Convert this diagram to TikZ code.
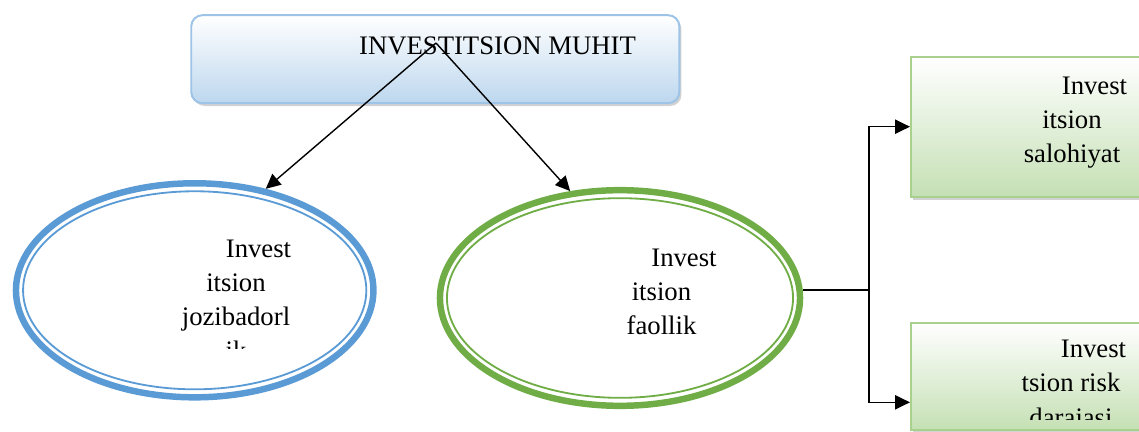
\documentclass[tikz,border=0pt]{standalone}
\usepackage{fontspec}
\setmainfont{Liberation Serif}
\usetikzlibrary{shapes}
\usetikzlibrary{shadows}
\usetikzlibrary{arrows.meta}
\definecolor{ovblue}{HTML}{5B9BD5}
\definecolor{ovgreen}{HTML}{70AD47}
\definecolor{bxblue}{HTML}{9DC3E6}
\definecolor{bxbluef}{HTML}{BDD7EE}
\definecolor{bxgreen}{HTML}{A9D18E}
\definecolor{bxgreenf}{HTML}{C5E0B4}
\tikzset{
    mynodeb/.style = {rectangle, rounded corners=8pt, draw=bxblue, line width=1.4pt, top color=white, bottom color=bxbluef, drop shadow={shadow xshift=1.5pt, shadow yshift=-2pt, fill=gray!70}},
    mynodeg/.style = {rectangle, draw=bxgreen, line width=1.4pt, top color=white, bottom color=bxgreenf, drop shadow={shadow xshift=1.5pt, shadow yshift=-2pt, fill=gray!70}},
    myovalb/.style = {ellipse, draw=ovblue, line width=4.6pt, inner sep=0pt},
    myovalg/.style = {ellipse, draw=ovgreen, line width=4.6pt, inner sep=0pt},
    mytext/.style = {align=center, inner sep=0pt, anchor=base, text=black, font=\fontsize{19pt}{24.2pt}\selectfont},
    edgen/.style = {-, line width=1pt, black},
    edgea/.style = {-{Triangle[length=10.5pt,width=10pt]}, line width=1pt, black},
}

\begin{document}
\begin{tikzpicture}[x=0.025cm, y=-0.025cm]
\useasboundingbox (0,0) rectangle (1139,432);
\clip (0,0) rectangle (1139,432);
%
\node[mynodeb, minimum width=12.2cm, minimum height=2.2cm] at (435.3,59.2) (muhit) {};
\node[mytext] at (497.5,55) (muhittxt) {INVESTITSION MUHIT};
%
\node[myovalb, minimum width=8.935cm, minimum height=5.35cm] at (194.7,290.3) (jozib) {};
\draw[ovblue, line width=1.3pt] (jozib.center) ellipse [x radius=4.29cm, y radius=2.475cm];
\node[myovalg, minimum width=9cm, minimum height=5.39cm] at (620,298) (faol) {};
\draw[ovgreen, line width=1.3pt] (faol.center) ellipse [x radius=4.325cm, y radius=2.495cm];
%
\node[mynodeg, minimum width=6.225cm, minimum height=3.5cm] at (1035.5,126.7) (salo) {};
\node[mynodeg, minimum width=6.225cm, minimum height=2.68cm] at (1035.5,376.3) (risk) {};
%
\begin{scope}
\clip (0,0) rectangle (420,349);
\node[mytext] at (236,360) (jozibtxt) {\hspace*{32pt}Invest\\itsion\\jozibadorl\\ik};
\end{scope}
\node[mytext] at (661.5,334.7) (faoltxt) {\hspace*{32pt}Invest\\itsion\\faollik};
\node[mytext] at (1072,162.3) (salotxt) {\hspace*{32pt}Invest\\itsion\\salohiyat};
\begin{scope}
\clip (900,300) rectangle (1139,420);
\node[mytext] at (1071,426) (risktxt) {\hspace*{32pt}Invest\\tsion risk\\darajasi};
\end{scope}
%
\coordinate (src) at (436,43);
\coordinate (jn) at (869,290);
\draw[edgea] (src) -- (jozib.55);
\draw[edgea] (src) -- (faol.115);
\draw[edgen] (jn -| faol.east) -- (jn);
\draw[edgea] (jn) |- (salo.west);
\draw[edgea] (jn) |- ([yshift=-18.5pt]risk.west);

\end{tikzpicture}
\end{document}
